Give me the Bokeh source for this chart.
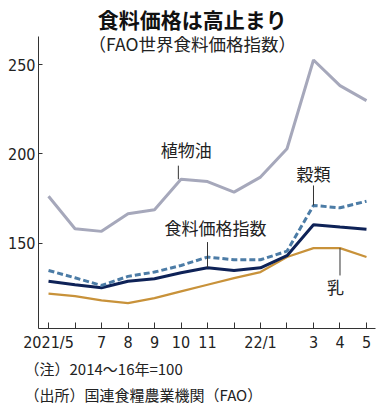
from bokeh.plotting import figure
from bokeh.models import Range1d, FixedTicker, Label, ColumnDataSource, Title
from bokeh.embed import file_html
from bokeh.resources import INLINE

months = ["2021/5", "", "7", "8", "9", "10", "11", "", "22/1", "", "3", "4", "5"]
veg_oil = [176.3, 158.1, 156.6, 166.5, 168.7, 185.8, 184.5, 178.6, 187.0, 202.9, 252.6, 238.2, 229.8]
cereals = [134.7, 130.6, 126.3, 131.4, 133.8, 137.5, 142.2, 140.7, 140.7, 145.5, 171.1, 169.8, 173.5]
food_index = [128.7, 126.7, 125.0, 128.7, 130.1, 133.4, 136.2, 134.7, 136.2, 143.0, 160.3, 159.0, 157.8]
dairy = [121.7, 120.3, 118.0, 116.4, 119.2, 123.0, 126.7, 130.4, 133.8, 142.2, 147.2, 147.2, 142.2]
yticks = [150, 200, 250]

x = list(range(len(months)))
JP = "Noto Sans CJK JP"
NUM = "Liberation Sans Narrow, DejaVu Sans Condensed, sans-serif"

p = figure(width=385, height=411, output_backend="svg", toolbar_location=None,
           x_range=Range1d(-0.378, 12.34), y_range=Range1d(102.2, 285.9),
           min_border_top=0, min_border_right=10, min_border_left=38, min_border_bottom=83)
p.outline_line_color = None
p.grid.visible = False

# lines
p.line(x, veg_oil, line_color="#a6a8bb", line_width=3)
p.line(x, dairy, line_color="#c8923a", line_width=2.2)
p.line(x, food_index, line_color="#0e2257", line_width=3)
p.line(x, cereals, line_color="#4c7ca6", line_width=3, line_dash="6 3")

# axes
ax = p.yaxis[0]
ax.ticker = FixedTicker(ticks=yticks)
ax.bounds = (102.2, 265.7)
ax.major_tick_in = 4
ax.major_tick_out = 0
ax.minor_tick_line_color = None
ax.axis_line_color = "#333333"
ax.major_tick_line_color = "#333333"
ax.major_label_text_font = NUM
ax.major_label_text_font_size = "16px"
ax.major_label_text_color = "#222222"
ax.major_label_standoff = 3

bx = p.xaxis[0]
bx.ticker = FixedTicker(ticks=x)
bx.major_label_overrides = {i: m for i, m in enumerate(months)}
bx.major_tick_in = 6
bx.major_tick_out = 0
bx.minor_tick_line_color = None
bx.axis_line_color = "#333333"
bx.major_tick_line_color = "#333333"
bx.major_label_text_font = NUM
bx.major_label_text_font_size = "16px"
bx.major_label_text_color = "#222222"
bx.major_label_standoff = 4

# leader lines
lead = ColumnDataSource(dict(
    x0=[4.9, 10, 6, 11], x1=[4.9, 10, 6, 11],
    y0=[193.4, 182.3, 150.6, 147.2], y1=[185.8, cereals[10], food_index[6], 131.9]))
p.segment("x0", "y0", "x1", "y1", source=lead, line_color="#333333", line_width=1)

def lab(xv, yv, text, size="17px"):
    p.add_layout(Label(x=xv, y=yv, text=text, text_font=JP, text_font_size=size,
                       text_align="center", text_baseline="middle", text_color="#222222"))

lab(5.2, 202.5, "植物油")
lab(10.0, 189.1, "穀類")
lab(6.3, 158.6, "食料価格指数")
lab(10.83, 125.7, "乳")

# titles (inside the frame top, in screen units from the frame's bottom-left)
p.add_layout(Label(x=153.7, y=309.7, x_units="screen", y_units="screen", text="食料価格は高止まり",
                   text_font=JP, text_font_size="21px", text_font_style="bold",
                   text_align="center", text_baseline="middle", text_color="#111111"))
p.add_layout(Label(x=153.7, y=284.7, x_units="screen", y_units="screen", text="（FAO世界食料価格指数）",
                   text_font=JP, text_font_size="17.5px",
                   text_align="center", text_baseline="middle", text_color="#222222"))

# notes below the axis
p.add_layout(Title(text="（注）2014～16年=100", align="left", offset=-14, standoff=3,
                   text_font=JP, text_font_size="15px", text_font_style="normal",
                   text_color="#222222"), "below")
p.add_layout(Title(text="（出所）国連食糧農業機関（FAO）", align="left", offset=-14, standoff=3,
                   text_font=JP, text_font_size="15px", text_font_style="normal",
                   text_color="#222222"), "below")

open("out.html", "w").write(file_html(p, INLINE))
